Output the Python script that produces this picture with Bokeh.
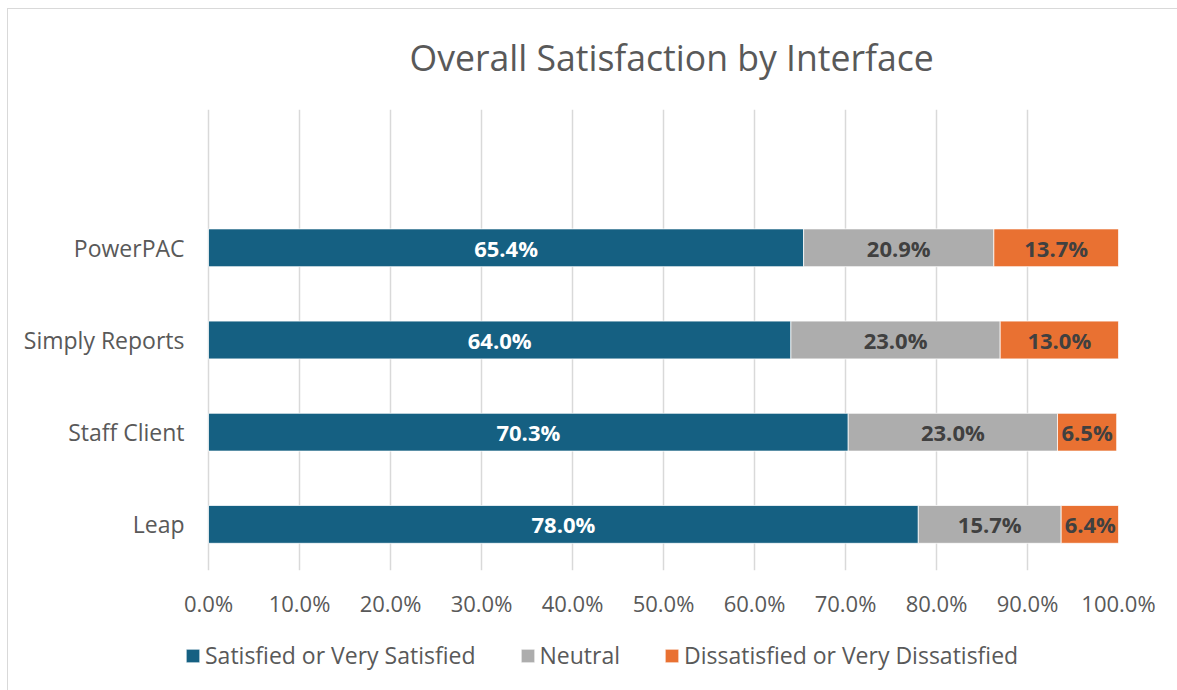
from bokeh.plotting import figure
from bokeh.layouts import column
from bokeh.models import (ColumnDataSource, FixedTicker, Legend, LegendItem,
                          InlineStyleSheet, Range1d)
from bokeh.core.properties import value
from bokeh.embed import file_html
from bokeh.resources import INLINE

categories = ["Leap", "Staff Client", "Simply Reports", "PowerPAC"]
satisfied = [78.0, 70.3, 64.0, 65.4]
neutral = [15.7, 23.0, 23.0, 20.9]
dissatisfied = [6.4, 6.5, 13.0, 13.7]
series_names = ["Satisfied or Very Satisfied", "Neutral", "Dissatisfied or Very Dissatisfied"]
x_ticks = [0, 10, 20, 30, 40, 50, 60, 70, 80, 90, 100]
title_text = "Overall Satisfaction by Interface"

FONT = "Open Sans"
GREY_TEXT = "#595959"
colors = ["#156082", "#ADADAD", "#E97132"]
label_colors = ["#FFFFFF", "#404040", "#404040"]

# layout (pixels)
W = 1177
H1, H2 = 630, 60
LEFT, RIGHT, TOP, BOTTOM = 10, 59, 109, 60
ZERO_PX = 208
px_per_unit = (W - RIGHT - ZERO_PX) / 100.0
x_start = -(ZERO_PX - LEFT) / px_per_unit

ypos = list(range(len(categories)))
n_end = [a + b for a, b in zip(satisfied, neutral)]
d_end = [a + b for a, b in zip(n_end, dissatisfied)]

src = ColumnDataSource(dict(
    y=ypos,
    s0=[0] * len(ypos), s1=satisfied,
    n0=satisfied, n1=n_end,
    d0=n_end, d1=d_end,
    sm=[v / 2 for v in satisfied],
    nm=[a + b / 2 for a, b in zip(satisfied, neutral)],
    dm=[a + b / 2 for a, b in zip(n_end, dissatisfied)],
    st=[f"{v:.1f}%" for v in satisfied],
    nt=[f"{v:.1f}%" for v in neutral],
    dt=[f"{v:.1f}%" for v in dissatisfied],
))
cat_src = ColumnDataSource(dict(x=[0] * len(ypos), y=ypos, t=categories))

LINE = "linear-gradient(#d9d9d9, #d9d9d9)"
css_top = InlineStyleSheet(css=(":host { background: " + LINE + " 7px 8px / 1px 100% no-repeat, "
                                + LINE + " 7px 8px / 100% 1px no-repeat, #ffffff; }"))
css_bot = InlineStyleSheet(css=(":host { background: " + LINE + " 7px 0px / 1px 100% no-repeat, #ffffff; }"))

fig = figure(width=W, height=H1, output_backend="svg", toolbar_location=None,
             x_range=Range1d(x_start, 100), y_range=Range1d(-0.5, 4.5),
             min_border_left=LEFT, min_border_right=RIGHT, min_border_top=TOP,
             min_border_bottom=BOTTOM, stylesheets=[css_top])
fig.outline_line_color = None
fig.background_fill_alpha = 0
fig.border_fill_alpha = 0
fig.yaxis.visible = False

h = 0.41
seg_cols = [("s0", "s1"), ("n0", "n1"), ("d0", "d1")]
for (lc, rc), c in zip(seg_cols, colors):
    fig.hbar(y="y", left=lc, right=rc, height=h, source=src, fill_color=c,
             line_color="white", line_width=0.75)

for xcol, tcol, col in [("sm", "st", label_colors[0]), ("nm", "nt", label_colors[1]),
                        ("dm", "dt", label_colors[2])]:
    fig.text(x=xcol, y="y", text=tcol, source=src, text_align="center", text_baseline="middle",
             text_font=value(FONT), text_font_size="22px", text_font_style="bold",
             text_color=col)

# category labels (left of 0%)
fig.text(x="x", y="y", text="t", source=cat_src, x_offset=-24, text_align="right",
         text_baseline="middle", text_font=value(FONT), text_font_size="23px",
         text_color=GREY_TEXT)

# title
fig.title.text = title_text
fig.title.align = "left"
fig.title.offset = 399
fig.title.standoff = 57
fig.title.text_font = FONT
fig.title.text_font_size = "35.6px"
fig.title.text_font_style = "normal"
fig.title.text_color = GREY_TEXT

# x axis
fig.xaxis.ticker = FixedTicker(ticks=x_ticks)
fig.xaxis.major_label_overrides = {t: f"{t:.1f}%" for t in x_ticks}
fig.xaxis.axis_line_color = None
fig.xaxis.major_tick_line_color = None
fig.xaxis.minor_tick_line_color = None
fig.xaxis.major_label_text_font = FONT
fig.xaxis.major_label_text_font_size = "22px"
fig.xaxis.major_label_text_color = GREY_TEXT
fig.xaxis.major_label_standoff = 11

fig.xgrid.grid_line_color = "#D9D9D9"
fig.xgrid.grid_line_width = 1.5
fig.ygrid.grid_line_color = None

# legend strip (same series; its view range keeps the bars themselves out of sight)
leg = figure(width=W, height=H2, output_backend="svg", toolbar_location=None,
             x_axis_type=None, y_axis_type=None, min_border=0,
             x_range=Range1d(0, 100), y_range=Range1d(100, 101), stylesheets=[css_bot])
leg.outline_line_color = None
leg.background_fill_alpha = 0
leg.border_fill_alpha = 0
leg.grid.visible = False
lr = [leg.hbar(y="y", left=lc, right=rc, height=h, source=src, fill_color=c,
               line_color="white", line_width=0.75)
      for (lc, rc), c in zip(seg_cols, colors)]
legend = Legend(items=[LegendItem(label=n, renderers=[r]) for n, r in zip(series_names, lr)],
                orientation="horizontal", location=(184 - LEFT, 19),
                padding=0, margin=0, spacing=43, label_standoff=4,
                glyph_width=17, glyph_height=17, label_height=24,
                label_text_font=FONT, label_text_font_size="23px", label_text_color=GREY_TEXT,
                border_line_color=None, background_fill_alpha=0)
leg.add_layout(legend, "center")

p = column(fig, leg, spacing=0)
open("out.html", "w").write(file_html(p, INLINE))
